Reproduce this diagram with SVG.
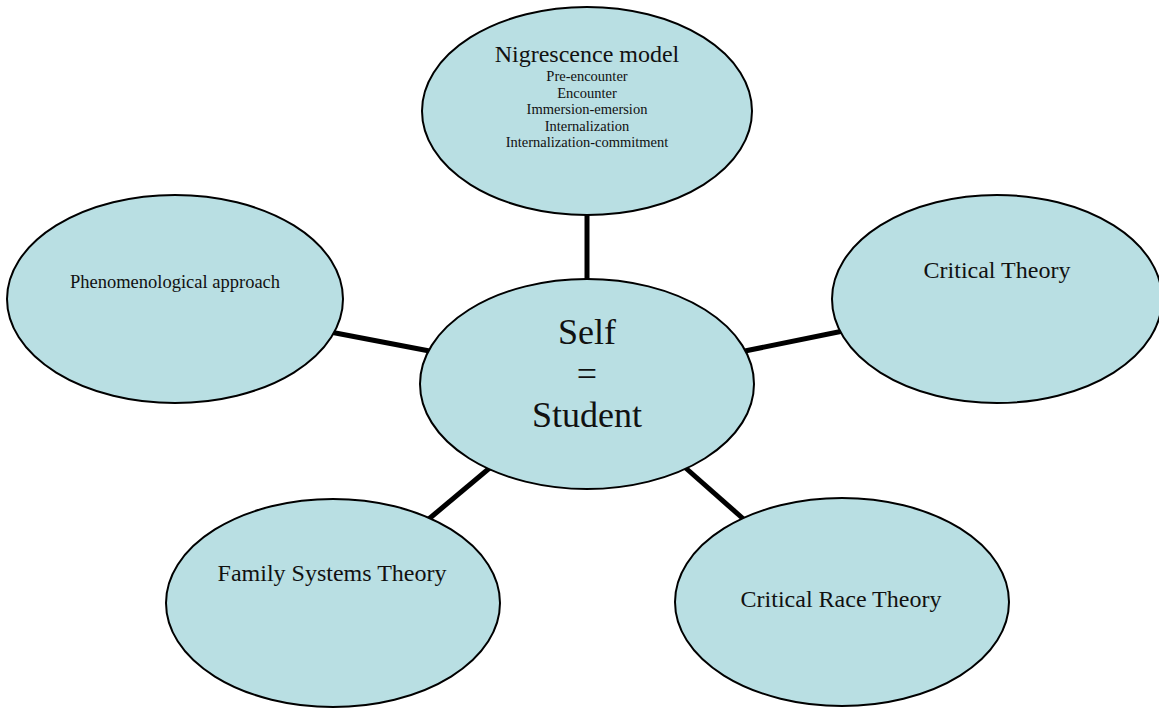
<svg xmlns="http://www.w3.org/2000/svg" width="1159" height="708" viewBox="0 0 1159 708">
<style>
.node ellipse{fill:#b9dfe3;stroke:#000;stroke-width:2}
.conn line{stroke:#000;stroke-width:5}
text{font-family:"Liberation Serif","Times New Roman",serif;fill:#111;text-anchor:middle}
.t24{font-size:24px}
.t18{font-size:18.5px}
.t14{font-size:14.5px}
.t36{font-size:36px}
</style>
<rect width="1159" height="708" fill="#fff"/>
<g id="connectors" class="conn">
<line x1="587" y1="205" x2="587" y2="290"/>
<line x1="325" y1="331" x2="440" y2="353"/>
<line x1="735" y1="353" x2="848" y2="330"/>
<line x1="424" y1="523" x2="498" y2="461"/>
<line x1="680" y1="463" x2="748" y2="523"/>
</g>
<g id="node-nigrescence" class="node">
<ellipse cx="587" cy="111" rx="165" ry="104"/>
<text class="t24" x="587" y="62">Nigrescence model</text>
<text class="t14" x="587" y="81">Pre-encounter</text>
<text class="t14" x="587" y="97.5">Encounter</text>
<text class="t14" x="587" y="114">Immersion-emersion</text>
<text class="t14" x="587" y="130.5">Internalization</text>
<text class="t14" x="587" y="147">Internalization-commitment</text>
</g>
<g id="node-phenomenological" class="node">
<ellipse cx="175" cy="299" rx="168" ry="104"/>
<text class="t18" x="175" y="288">Phenomenological approach</text>
</g>
<g id="node-critical-theory" class="node">
<ellipse cx="997" cy="299" rx="165" ry="104"/>
<text class="t24" x="997" y="278">Critical Theory</text>
</g>
<g id="node-self" class="node">
<ellipse cx="587" cy="384" rx="167" ry="105"/>
<text class="t36" x="587" y="344">Self</text>
<text class="t36" x="587" y="386">=</text>
<text class="t36" x="587" y="427">Student</text>
</g>
<g id="node-family" class="node">
<ellipse cx="333" cy="603" rx="167" ry="104"/>
<text class="t24" x="332" y="581">Family Systems Theory</text>
</g>
<g id="node-crt" class="node">
<ellipse cx="842" cy="602" rx="167" ry="104"/>
<text class="t24" x="841" y="607">Critical Race Theory</text>
</g>
</svg>
